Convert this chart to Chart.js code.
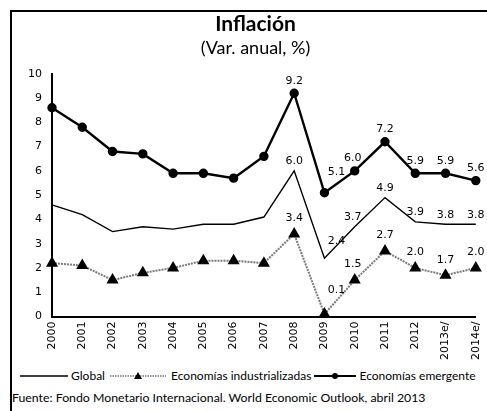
<!DOCTYPE html>
<html>
<head>
<meta charset="utf-8">
<script src="https://cdn.jsdelivr.net/npm/chart.js@4/dist/chart.umd.min.js"></script>
<style>
  body { margin: 0; background: #fff; width: 487px; height: 411px; overflow: hidden; }
  #frame { position: absolute; left: 10px; top: 10px; width: 477px; height: 401px;
           border-left: 2px solid #000; border-top: 2px solid #000; }
  #wrap { position: absolute; left: 0; top: 0; width: 477px; height: 350px; }
  #legend { position: absolute; left: 8px; top: 355px; font: 12px Lato, sans-serif; white-space: nowrap; }
  #legend span, #legend svg { vertical-align: middle; }
  #fuente { position: absolute; left: 0px; top: 378px; font: 12.3px Lato, sans-serif; white-space: nowrap; }
</style>
</head>
<body>
<div id="frame">
  <div id="wrap"><canvas id="c"></canvas></div>
  <div id="legend">
    <svg width="48" height="10"><line x1="0" y1="5" x2="48" y2="5" stroke="#000" stroke-width="1.3"/></svg>
    <span>Global</span>
    <svg width="60" height="10"><line x1="2" y1="5" x2="58" y2="5" stroke="#777" stroke-width="1.6" stroke-dasharray="1.5 1"/><polygon points="30,1 26,8 34,8" fill="#000"/></svg>
    <span>Economías industrializadas</span>
    <svg width="42" height="10"><line x1="0" y1="5" x2="42" y2="5" stroke="#000" stroke-width="2"/><circle cx="21" cy="5" r="3" fill="#000"/></svg>
    <span>Economías emergente</span>
  </div>
  <div id="fuente">Fuente: Fondo Monetario Internacional. World Economic Outlook, abril 2013</div>
</div>
<script>
'use strict';

// Datos
const years = ['2000','2001','2002','2003','2004','2005','2006','2007','2008','2009','2010','2011','2012','2013e/','2014e/'];
const global = [4.6, 4.2, 3.5, 3.7, 3.6, 3.8, 3.8, 4.1, 6.0, 2.4, 3.7, 4.9, 3.9, 3.8, 3.8];
const industrializadas = [2.2, 2.1, 1.5, 1.8, 2.0, 2.3, 2.3, 2.2, 3.4, 0.1, 1.5, 2.7, 2.0, 1.7, 2.0];
const emergentes = [8.6, 7.8, 6.8, 6.7, 5.9, 5.9, 5.7, 6.6, 9.2, 5.1, 6.0, 7.2, 5.9, 5.9, 5.6];
const yTicks = [0, 1, 2, 3, 4, 5, 6, 7, 8, 9, 10];
// se etiquetan los valores a partir de 2008
const firstLabel = 8;

// desplazamiento horizontal de etiquetas por año (solo estilo)
const labelDx = { 9: 12, 10: -2 };

const valueLabels = {
  id: 'valueLabels',
  afterDatasetsDraw(chart) {
    const ctx = chart.ctx;
    ctx.save();
    ctx.font = '11px "DejaVu Sans", sans-serif';
    ctx.fillStyle = '#000';
    ctx.textAlign = 'center';
    ctx.textBaseline = 'bottom';
    chart.data.datasets.forEach((ds, di) => {
      const meta = chart.getDatasetMeta(di);
      meta.data.forEach((pt, i) => {
        if (i < firstLabel) return;
        const dx = labelDx[i] || 0;
        const dy = i === 9 ? 8 : 0;
        ctx.fillText(ds.data[i].toFixed(1), pt.x + dx, pt.y - ds.labelGap - dy);
      });
    });
    ctx.restore();
  }
};

new Chart(document.getElementById('c'), {
  type: 'line',
  data: {
    labels: years,
    datasets: [
      {
        label: 'Global',
        data: global,
        borderColor: '#000',
        borderWidth: 1.4,
        pointRadius: 0,
        tension: 0,
        labelGap: 4,
      },
      {
        label: 'Economías industrializadas',
        data: industrializadas,
        borderColor: '#7a7a7a',
        borderWidth: 2,
        borderDash: [2, 1],
        pointStyle: 'triangle',
        pointRadius: 5,
        pointBackgroundColor: '#000',
        pointBorderColor: '#000',
        tension: 0,
        labelGap: 10,
      },
      {
        label: 'Economías emergentes',
        data: emergentes,
        borderColor: '#000',
        borderWidth: 2.4,
        pointStyle: 'circle',
        pointRadius: 3.5,
        pointBackgroundColor: '#000',
        pointBorderColor: '#000',
        tension: 0,
        labelGap: 7,
      },
    ],
  },
  options: {
    responsive: true,
    maintainAspectRatio: false,
    animation: false,
    layout: { padding: { left: 10, right: 0, top: 0, bottom: 2 } },
    plugins: {
      legend: { display: false },
      tooltip: { enabled: false },
      title: {
        display: true,
        text: 'Inflación',
        color: '#000',
        font: { family: 'Lato', size: 21, weight: 'bold' },
        padding: { top: 0, bottom: 0 },
      },
      subtitle: {
        display: true,
        text: '(Var. anual, %)',
        color: '#000',
        font: { family: 'Lato', size: 18 },
        padding: { top: 0, bottom: 15 },
      },
    },
    scales: {
      x: {
        offset: false,
        grid: { display: false, drawTicks: true, tickLength: 5, tickColor: '#000' },
        border: { color: '#000', width: 2 },
        ticks: {
          color: '#000',
          font: { family: 'DejaVu Sans', size: 11 },
          maxRotation: 90,
          minRotation: 90,
          padding: 0,
          autoSkip: false,
        },
      },
      y: {
        min: 0,
        max: 10,
        afterBuildTicks: (axis) => { axis.ticks = yTicks.map((v) => ({ value: v })); },
        grid: { display: false, drawTicks: true, tickLength: 4, tickColor: '#000' },
        border: { color: '#000', width: 2 },
        ticks: {
          color: '#000',
          font: { family: 'DejaVu Sans', size: 11 },
          padding: 6,
        },
      },
    },
  },
  plugins: [valueLabels],
});
</script>
</body>
</html>
